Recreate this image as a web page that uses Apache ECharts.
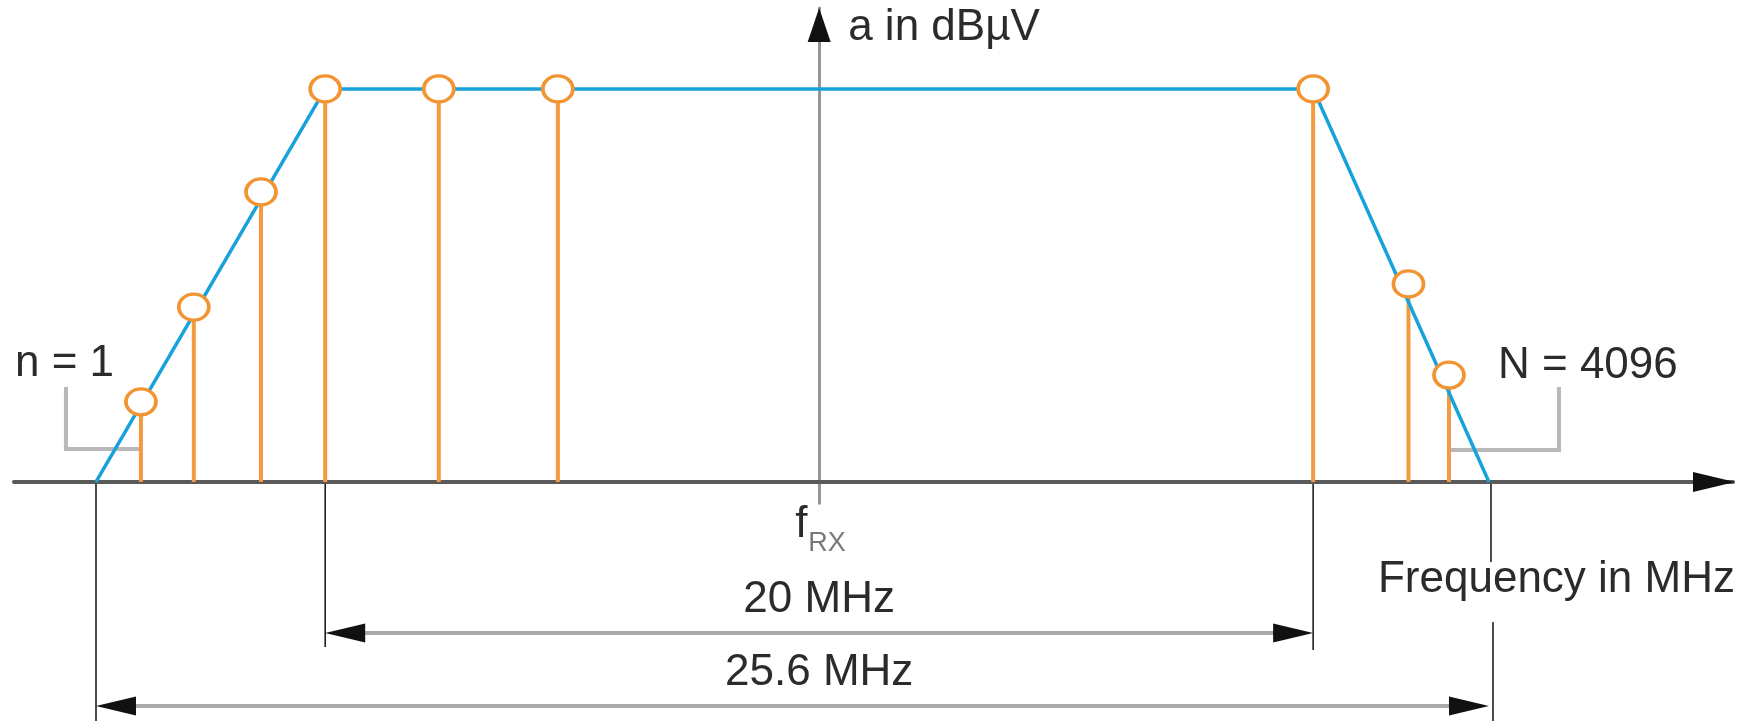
<!DOCTYPE html>
<html>
<head>
<meta charset="utf-8">
<script src="https://cdn.jsdelivr.net/npm/echarts@6/dist/echarts.min.js"></script>
<style>
  html, body { margin: 0; padding: 0; background: #ffffff; }
  #chart { width: 1756px; height: 721px; }
</style>
</head>
<body>
<div id="chart"></div>
<script>
// ---------------- DATA (schematic units: x = offset from f_RX, y = level) ----------------
const stemX = [-13.73, -12.66, -11.30, -10.0, -7.70, -5.29, 10.0, 11.93, 12.75];
const stemY = [20.4, 44.5, 73.8, 100, 100, 100, 100, 50.4, 27.2];
const envX = [-14.64, -10.0, 10.0, 13.56];
const envY = [0, 100, 100, 0];
const bandEdges = [-10.0, 10.0];      // 20 MHz channel
const spanEdges = [-14.64, 13.56];    // 25.6 MHz sampled span
const dimLabels = ['20 MHz', '25.6 MHz'];
const axisNames = ['a in dBµV', 'Frequency in MHz'];
const centerLabel = ['f', 'RX'];
const harmonicLabels = ['n = 1', 'N = 4096'];
const xRange = [-16.3, 18.5];
const yRange = [-5.4, 120.6];

// ---------------- STYLE ----------------
const FONT = '"Liberation Sans", Arial, Helvetica, sans-serif';
const TXT = '#2b2b2b';
const ORANGE = '#f39433';
const STEM = '#f49a40';
const BLUE = '#18a2dc';

const chart = echarts.init(document.getElementById('chart'), null, { renderer: 'canvas' });

chart.setOption({
  animation: false,
  backgroundColor: '#ffffff',
  grid: { left: 14, right: 23, top: 8, bottom: 217.8, containLabel: false },
  xAxis: {
    type: 'value', min: xRange[0], max: xRange[1],
    axisLine: { show: true, onZero: true, lineStyle: { color: '#5a5a5a', width: 4 } },
    axisTick: { show: false }, axisLabel: { show: false }, splitLine: { show: false }
  },
  yAxis: {
    type: 'value', min: yRange[0], max: yRange[1],
    axisLine: { show: true, onZero: true, lineStyle: { color: '#969696', width: 3 } },
    axisTick: { show: false }, axisLabel: { show: false }, splitLine: { show: false }
  },
  series: [
    {
      type: 'custom',
      name: 'stems',
      z: 2,
      data: stemX.map((x, i) => [x, stemY[i]]),
      renderItem: function (params, api) {
        const p0 = api.coord([api.value(0), 0]);
        const p1 = api.coord([api.value(0), api.value(1)]);
        return {
          type: 'line',
          shape: { x1: p0[0], y1: p0[1], x2: p1[0], y2: p1[1] },
          style: { stroke: STEM, lineWidth: 4 }
        };
      }
    },
    {
      type: 'line',
      name: 'envelope',
      z: 3,
      data: envX.map((x, i) => [x, envY[i]]),
      symbol: 'none',
      lineStyle: { color: BLUE, width: 3.5 }
    },
    {
      type: 'scatter',
      name: 'harmonics',
      z: 4,
      data: stemX.map((x, i) => [x, stemY[i]]),
      symbol: 'circle',
      symbolSize: [30, 26],
      itemStyle: { color: '#ffffff', borderColor: ORANGE, borderWidth: 3.5, opacity: 1 }
    }
  ]
});

// ---------------- ANNOTATIONS anchored to data ----------------
const px = (x, y) => chart.convertToPixel({ gridIndex: 0 }, [x, y]);
const O = px(0, 0);
const xEnd = px(xRange[1], 0)[0];
const yTop = px(0, yRange[1])[1];
const H = 721;

function text(str, x, y, opts) {
  opts = opts || {};
  return {
    type: 'text', x: x, y: y, z: 20,
    style: {
      text: str, fill: opts.fill || TXT,
      font: (opts.size || 44) + 'px ' + FONT,
      align: opts.align || 'left', verticalAlign: 'middle'
    }
  };
}
function seg(x1, y1, x2, y2, color, w, z) {
  return { type: 'line', z: z || 1, shape: { x1, y1, x2, y2 }, style: { stroke: color, lineWidth: w } };
}
function tri(points, z) {
  return { type: 'polygon', z: z || 20, shape: { points: points }, style: { fill: '#111111' } };
}
function dimArrow(xa, xb, y) {
  const L = 40, h = 9.5;
  return [
    seg(xa + 10, y, xb - 10, y, '#aaaaaa', 4, 5),
    tri([[xa, y], [xa + L, y - h], [xa + L, y + h]]),
    tri([[xb, y], [xb - L, y - h], [xb - L, y + h]])
  ];
}

const s0 = px(spanEdges[0], 0)[0];
const s1 = px(spanEdges[1], 0)[0];
const b0 = px(bandEdges[0], 0)[0];
const b1 = px(bandEdges[1], 0)[0];
const firstStem = px(stemX[0], 0)[0];
const lastStem = px(stemX[stemX.length - 1], 0)[0];

const elements = [];
// axis arrowheads
elements.push(tri([[xEnd + 2, O[1]], [xEnd - 40, O[1] - 10], [xEnd - 40, O[1] + 10]]));
elements.push(tri([[O[0], yTop], [O[0] - 11.5, yTop + 34], [O[0] + 11.5, yTop + 34]]));
// axis names
elements.push(text(axisNames[0], O[0] + 29, yTop + 19.5));
elements.push(text(axisNames[1], s1 - 111, O[1] + 97.5));
// f_RX
elements.push(text(centerLabel[0], O[0] - 24, O[1] + 42.5));
elements.push(text(centerLabel[1], O[0] - 11, O[1] + 62, { size: 27, fill: '#7a7a7a' }));
// black extension lines
elements.push(seg(s0, O[1] + 2, s0, H, '#111111', 1.5, 6));
elements.push(seg(b0, O[1] + 2, b0, O[1] + 165, '#111111', 1.5, 6));
elements.push(seg(b1, O[1] + 2, b1, O[1] + 168, '#111111', 1.5, 6));
elements.push(seg(s1 + 2, O[1] + 2, s1 + 2, O[1] + 80, '#111111', 1.5, 6));
elements.push(seg(s1 + 4, O[1] + 140, s1 + 4, H, '#111111', 1.5, 6));
// dimension arrows
Array.prototype.push.apply(elements, dimArrow(b0, b1, O[1] + 151));
Array.prototype.push.apply(elements, dimArrow(s0, s1, O[1] + 224));
elements.push(text(dimLabels[0], (b0 + b1) / 2, O[1] + 117.5, { align: 'center' }));
elements.push(text(dimLabels[1], O[0], O[1] + 190.5, { align: 'center' }));
// harmonic brackets
elements.push({
  type: 'polyline', z: 1,
  shape: { points: [[firstStem, O[1] - 33], [firstStem - 75, O[1] - 33], [firstStem - 75, O[1] - 95]] },
  style: { stroke: '#b8b8b8', lineWidth: 4, fill: null }
});
elements.push({
  type: 'polyline', z: 1,
  shape: { points: [[lastStem, O[1] - 32], [lastStem + 110, O[1] - 32], [lastStem + 110, O[1] - 95]] },
  style: { stroke: '#b8b8b8', lineWidth: 4, fill: null }
});
elements.push(text(harmonicLabels[0], firstStem - 126, O[1] - 118.5));
elements.push(text(harmonicLabels[1], lastStem + 49, O[1] - 116.5));

chart.setOption({ graphic: { elements: elements } });
</script>
</body>
</html>
